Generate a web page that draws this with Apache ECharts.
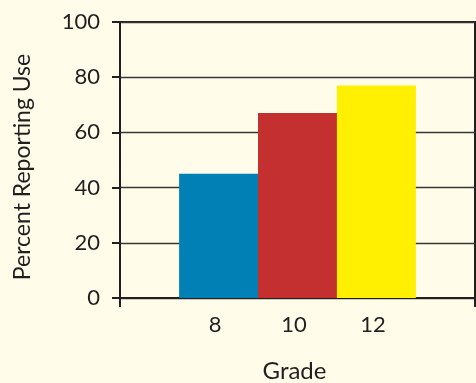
<!doctype html>
<html>
<head>
<meta charset="utf-8" />
<script src="https://cdn.jsdelivr.net/npm/echarts@6/dist/echarts.min.js"></script>
<style>
  html, body { margin: 0; padding: 0; background: #fffcea; }
  #chart { width: 476px; height: 383px; }
</style>
</head>
<body>
<div id="chart"></div>
<script>
// data
const grades = [8, 10, 12];
const percents = [45, 67, 77];
const barColors = ["#0080b4", "#c4302f", "#ffef00"];
const yTicks = [0, 20, 40, 60, 80, 100];

const ink = "#231f20";
const font = "Lato, 'Open Sans', sans-serif";

const chart = echarts.init(document.getElementById("chart"), null, { renderer: "canvas" });
chart.setOption({
  animation: false,
  backgroundColor: "#fffcea",
  grid: {
    left: 120, right: 1, top: 22, bottom: 85,
    outerBoundsMode: "none",
    show: true, borderColor: ink, borderWidth: 2, backgroundColor: "transparent"
  },
  xAxis: {
    type: "value",
    min: 5.5,
    max: 14.5,
    name: "Grade",
    nameLocation: "middle",
    nameGap: 61,
    nameTextStyle: { fontFamily: font, fontSize: 24, color: ink, padding: [0, 6, 0, 0] },
    axisLine: { show: true, lineStyle: { color: ink, width: 2 } },
    axisTick: { show: true, customValues: [5.5, 14.5], length: 9, lineStyle: { color: ink, width: 2 } },
    axisLabel: { customValues: grades, fontFamily: font, fontSize: 22, color: ink, margin: 16, padding: [0, 7, 0, 0] },
    splitLine: { show: false }
  },
  yAxis: {
    type: "value",
    min: yTicks[0],
    max: yTicks[yTicks.length - 1],
    interval: 20,
    name: "Percent Reporting Use",
    nameLocation: "middle",
    nameGap: 86,
    nameTextStyle: { fontFamily: font, fontSize: 23, color: ink, padding: [0, 14, 0, 0] },
    axisLine: { show: true, lineStyle: { color: ink, width: 2 } },
    axisTick: { show: true, length: 8, lineStyle: { color: ink, width: 2 } },
    axisLabel: { fontFamily: font, fontSize: 22, color: ink, margin: 20 },
    splitLine: { show: true, lineStyle: { color: "#3a3636", width: 1.3 } }
  },
  series: [{
    type: "bar",
    barWidth: 79,
    data: grades.map((g, i) => ({ value: [g, percents[i]], itemStyle: { color: barColors[i] } }))
  }]
});
</script>
</body>
</html>
